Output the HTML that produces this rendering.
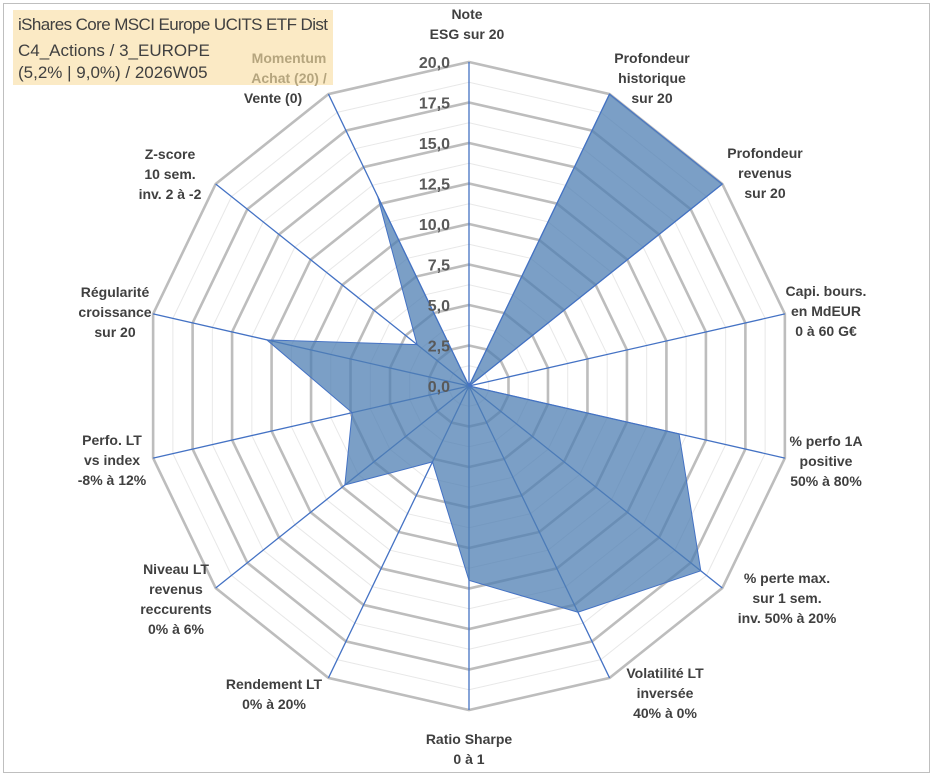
<!DOCTYPE html>
<html><head><meta charset="utf-8">
<style>
body{margin:0;background:#fff;}
svg text{font-family:"Liberation Sans",Arial,sans-serif;}
</style></head>
<body>
<svg id="chart" width="933" height="776" xmlns="http://www.w3.org/2000/svg">
<rect x="0" y="0" width="933" height="776" fill="#fff"/>
<rect x="3.5" y="3.5" width="926" height="769" fill="none" stroke="#bfbfbf" stroke-width="1"/>
<rect x="13" y="10" width="320" height="75" fill="#fbeac5"/>
<g id="grid"></g>
<g id="axes"></g>
<g id="series"></g>
<g id="ticks"></g>
<g id="labels" font-size="14" font-weight="bold" fill="#404040" text-anchor="middle"></g>
<g font-size="17" fill="#404040">
<text x="18" y="30" textLength="310">iShares Core MSCI Europe UCITS ETF Dist</text>
<text x="18" y="56">C4_Actions / 3_EUROPE</text>
<text x="18" y="78">(5,2% | 9,0%) / 2026W05</text>
</g>
</svg>
<script>
const categories=[["Note","ESG sur 20"],["Profondeur","historique","sur 20"],["Profondeur","revenus","sur 20"],["Capi. bours.","en MdEUR","0 à 60 G€"],["% perfo 1A","positive","50% à 80%"],["% perte max.","sur 1 sem.","inv. 50% à 20%"],["Volatilité LT","inversée","40% à 0%"],["Ratio Sharpe","0 à 1"],["Rendement LT","0% à 20%"],["Niveau LT","revenus","reccurents","0% à 6%"],["Perfo. LT","vs index","-8% à 12%"],["Régularité","croissance","sur 20"],["Z-score","10 sem.","inv. 2 à -2"],["Momentum","Achat (20) /","Vente (0)"]];
const values=[0,20,20,0,13.3,18.3,15.5,12,5.2,9.8,7.4,12.8,4.1,13];
const tickLabels=["0,0","2,5","5,0","7,5","10,0","12,5","15,0","17,5","20,0"];
const labelPos=[[467,14],[652,58],[765,153],[826,291],[826,441],[787,578],[665,673],[469,739],[274,684],[176,569],[112,440],[115,292],[170,154],[289,58]];
const CX=469,CY=386,R=324,MAX=20,N=categories.length;
const NS="http://www.w3.org/2000/svg";
function rr(v){return v/MAX*R;}
function pt(i,v){const a=i*2*Math.PI/N;return [CX+rr(v)*Math.sin(a),CY-rr(v)*Math.cos(a)];}
function mk(t,attrs,parent){const e=document.createElementNS(NS,t);for(const k in attrs)e.setAttribute(k,attrs[k]);parent.appendChild(e);return e;}
const grid=document.getElementById('grid');
for(let k=1;k<=16;k++){const v=k*1.25;const pts=[];for(let i=0;i<N;i++)pts.push(pt(i,v).join(','));
 const major=k%2===0;
 const p=mk('polygon',{points:pts.join(' '),fill:'none',stroke:major?'#bdbdbd':'#e8e8e8','stroke-width':major?2.6:1},grid);
 
 }
const axes=document.getElementById('axes');
for(let i=0;i<N;i++){const [x,y]=pt(i,MAX);const l=mk('line',{x1:CX,y1:CY,x2:x,y2:y,stroke:'#4472c4','stroke-width':1.3},axes);
 
 }
const series=document.getElementById('series');
const sp=values.map((v,i)=>pt(i,v).join(',')).join(' ');
const poly=mk('polygon',{points:sp,fill:'#4f7fb3','fill-opacity':0.75,stroke:'#4472c4','stroke-width':1},series);


const ticks=document.getElementById('ticks');
tickLabels.forEach((t,k)=>{const y=CY-rr(k*2.5);const e=mk('text',{x:CX-19,y:y+6,'text-anchor':'end','font-size':16,'font-weight':'bold',fill:'#595959'},ticks);e.textContent=t;
 
 });
const labels=document.getElementById('labels');
categories.forEach((lines,i)=>{const [x,y0]=labelPos[i];const g=mk('g',{},labels);
 
 
 lines.forEach((s,j)=>{const e=mk('text',{x:x,y:y0+j*20+5},g);e.textContent=s;
  if(i===13&&j<2){e.setAttribute('fill','#b5a57e');}
  if(i===13&&j===2){e.setAttribute('x',273);}
 });});
</script>
</body></html>
